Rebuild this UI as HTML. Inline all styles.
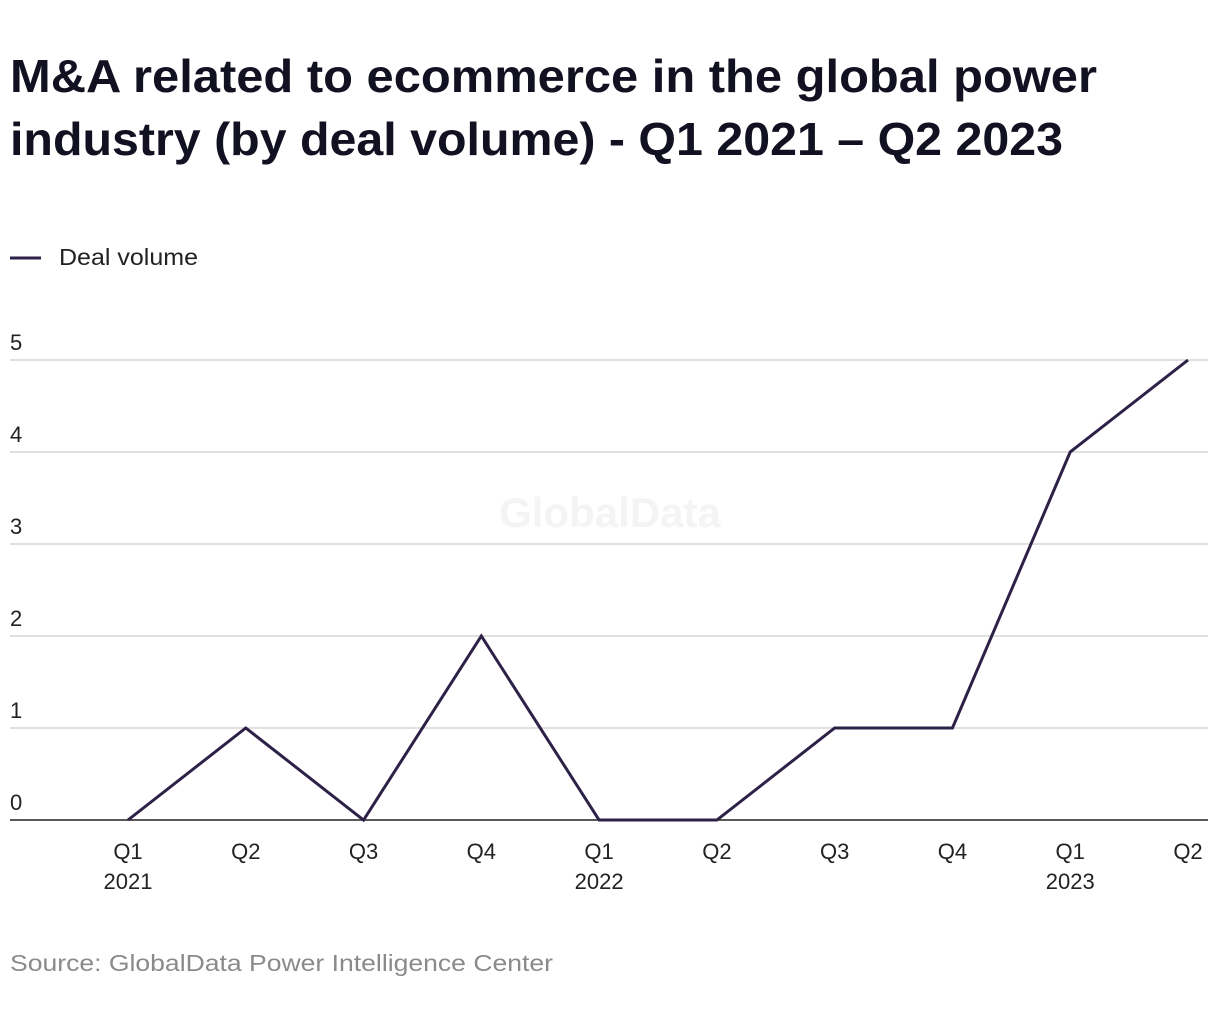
<!DOCTYPE html>
<html><head><meta charset="utf-8"><style>
body{margin:0;background:#fff;width:1220px;height:1020px;overflow:hidden;font-family:"Liberation Sans",sans-serif;}
</style></head><body>
<svg width="1220" height="1020" xmlns="http://www.w3.org/2000/svg">
<text x="10" y="92" font-size="46" font-weight="bold" fill="#111122" textLength="1087" lengthAdjust="spacingAndGlyphs">M&amp;A related to ecommerce in the global power</text>
<text x="10" y="155" font-size="46" font-weight="bold" fill="#111122" textLength="1053" lengthAdjust="spacingAndGlyphs">industry (by deal volume) - Q1 2021 – Q2 2023</text>
<line x1="10" y1="258" x2="41" y2="258" stroke="#2d2147" stroke-width="3"/>
<text x="59" y="265" font-size="23" fill="#222" textLength="139" lengthAdjust="spacingAndGlyphs">Deal volume</text>
<text x="610" y="527" font-size="42" font-weight="bold" fill="#f4f4f4" text-anchor="middle">GlobalData</text>
<g id="grid"></g><g id="xl"></g>
<path id="line" fill="none" stroke="#2d2147" stroke-width="3" stroke-linejoin="miter"/>
<text x="10" y="971" font-size="23" fill="#8a8a8a" textLength="543" lengthAdjust="spacingAndGlyphs">Source: GlobalData Power Intelligence Center</text>
</svg>
<script>
const categories=["Q1","Q2","Q3","Q4","Q1","Q2","Q3","Q4","Q1","Q2"];
const years=["2021","","","","2022","","","","2023",""];
const values=[0,1,0,2,0,0,1,1,4,5];
const yTicks=[0,1,2,3,4,5];
const NS="http://www.w3.org/2000/svg";
const xS=i=>128+i*(1188-128)/9;
const yS=v=>820-v*(820-360)/5;
const g=document.getElementById('grid'),xl=document.getElementById('xl');
yTicks.forEach(t=>{
 const l=document.createElementNS(NS,'line');
 l.setAttribute('x1',10);l.setAttribute('x2',1208);l.setAttribute('y1',yS(t));l.setAttribute('y2',yS(t));
 l.setAttribute('stroke',t===0?'#222':'#d6d6d6');l.setAttribute('stroke-width',1.5);
 
 
 g.appendChild(l);
 const tx=document.createElementNS(NS,'text');
 tx.setAttribute('x',10);tx.setAttribute('y',yS(t)-10);tx.setAttribute('font-size','22');tx.setAttribute('fill','#222');
 tx.textContent=t;
 
 
 g.appendChild(tx);
});
categories.forEach((c,i)=>{
 const tx=document.createElementNS(NS,'text');
 tx.setAttribute('x',xS(i));tx.setAttribute('y',859);tx.setAttribute('font-size','22');tx.setAttribute('fill','#222');tx.setAttribute('text-anchor','middle');
 tx.textContent=c;
 
 
 xl.appendChild(tx);
 if(years[i]){
  const ty=document.createElementNS(NS,'text');
  ty.setAttribute('x',xS(i));ty.setAttribute('y',889);ty.setAttribute('font-size','22');ty.setAttribute('fill','#222');ty.setAttribute('text-anchor','middle');
  ty.textContent=years[i];
  
  
  xl.appendChild(ty);
 }
});
document.getElementById('line').setAttribute('d',values.map((v,i)=>(i?'L':'M')+xS(i)+','+yS(v)).join(' '));
</script>
</body></html>
